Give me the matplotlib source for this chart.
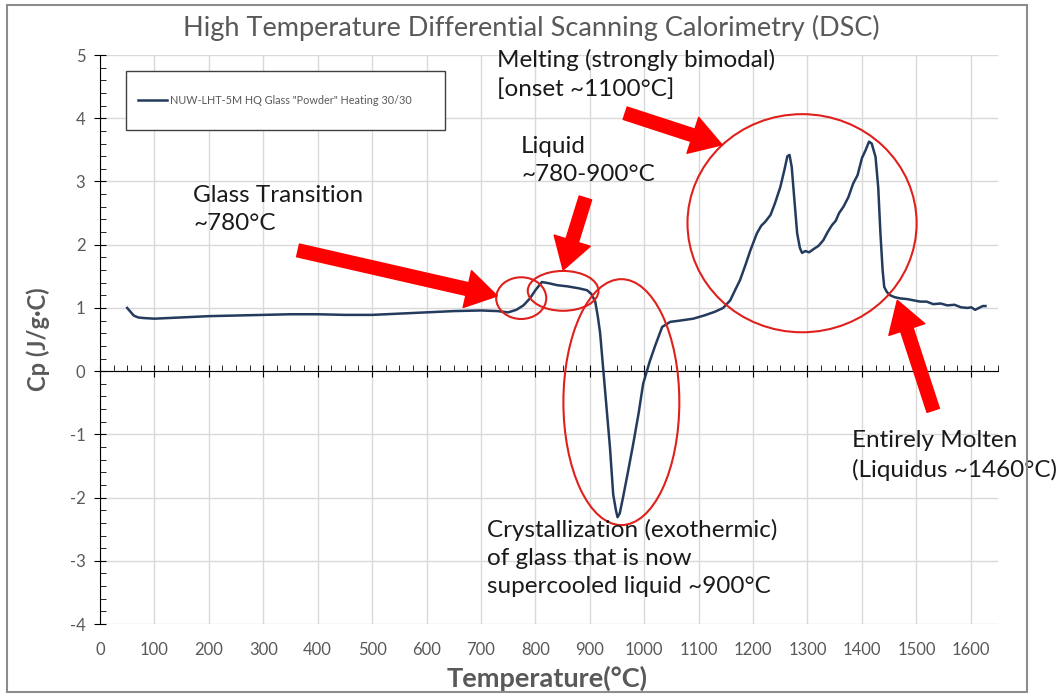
import matplotlib.pyplot as plt
from matplotlib.patches import Ellipse, Rectangle
from matplotlib.ticker import MultipleLocator

# DSC curve
temp = [50, 55, 62, 70, 80, 100, 150, 200, 250, 300, 350, 400, 450, 500, 550,
        600, 650, 700, 730, 750, 765, 778, 790, 800, 812, 825, 840, 860, 880,
        895, 903, 910, 915, 919, 924, 930, 937, 943, 948, 951, 955, 961, 970,
        980, 990, 998, 1010, 1020, 1033, 1048, 1066, 1090, 1110, 1130, 1145,
        1158, 1168, 1176, 1186, 1195, 1207, 1215, 1222, 1232, 1240, 1250, 1258,
        1263, 1267, 1271, 1276, 1281, 1286, 1290, 1296, 1303, 1311, 1320, 1329,
        1337, 1345, 1352, 1358, 1366, 1375, 1384, 1392, 1400, 1407, 1413, 1418,
        1425, 1430, 1434, 1438, 1441, 1446, 1452, 1460, 1471, 1483, 1495, 1507,
        1519, 1531, 1545, 1557, 1570, 1582, 1594, 1601, 1608, 1615, 1622, 1627]
cp = [1.0, 0.95, 0.88, 0.85, 0.84, 0.83, 0.85, 0.87, 0.88, 0.89, 0.9, 0.9,
      0.89, 0.89, 0.91, 0.93, 0.95, 0.96, 0.95, 0.93, 0.97, 1.04, 1.15, 1.28,
      1.41, 1.39, 1.36, 1.34, 1.31, 1.28, 1.22, 1.1, 0.85, 0.6, 0.1, -0.5,
      -1.2, -1.95, -2.2, -2.31, -2.25, -2.0, -1.6, -1.14, -0.65, -0.2, 0.15,
      0.4, 0.7, 0.78, 0.8, 0.83, 0.88, 0.94, 1.0, 1.12, 1.3, 1.44, 1.68, 1.91,
      2.18, 2.3, 2.36, 2.47, 2.65, 2.91, 3.2, 3.4, 3.42, 3.23, 2.7, 2.18, 1.95,
      1.87, 1.9, 1.88, 1.93, 1.98, 2.07, 2.2, 2.31, 2.38, 2.5, 2.6, 2.75, 2.97,
      3.1, 3.37, 3.5, 3.63, 3.6, 3.39, 2.9, 2.18, 1.6, 1.33, 1.25, 1.2, 1.17,
      1.15, 1.14, 1.12, 1.1, 1.1, 1.06, 1.07, 1.04, 1.05, 1.01, 1.0, 1.01,
      0.97, 1.0, 1.03, 1.03]

series_label = 'NUW-LHT-5M HQ Glass "Powder" Heating 30/30'

plt.rcParams['font.family'] = ['Lato', 'DejaVu Sans']
plt.rcParams['axes.unicode_minus'] = False
gray = '#595959'
navy = '#243b5e'

fig = plt.figure(figsize=(10.6, 6.96), dpi=100)
ax_h = 0.8175
ax = fig.add_axes([0.0943, 0.1034, 0.8472, ax_h])

ax.plot(temp, cp, color=navy, lw=1.8, label=series_label, zorder=3)

ax.set_xlim(0, 1650)
ax.set_ylim(-4, 5)
ax.set_xticks(range(0, 1601, 100))
ax.xaxis.set_minor_locator(MultipleLocator(25))
ax.yaxis.set_major_locator(MultipleLocator(1))
ax.yaxis.set_minor_locator(MultipleLocator(0.2))
ax.grid(True, which='major', color='#d9d9d9', lw=1)
ax.set_axisbelow(True)

for s in ['top', 'right']:
    ax.spines[s].set_visible(False)
# horizontal axis crosses at Cp = 0, labels stay at the bottom
ax.spines['bottom'].set_position(('data', 0))
ax.spines['bottom'].set_zorder(2.5)
pad_pt = ax_h * 6.96 * 72 * 4 / 9 + 13 - 4.5
ax.tick_params(axis='x', which='major', direction='inout', length=9,
               pad=pad_pt, labelsize=12, labelcolor=gray)
ax.tick_params(axis='x', which='minor', direction='in', length=4)
ax.tick_params(axis='y', which='major', direction='inout', length=9,
               labelsize=12, labelcolor=gray, pad=6)
ax.tick_params(axis='y', which='minor', direction='in', length=4)

fig.text(0.501, 0.96, 'High Temperature Differential Scanning Calorimetry (DSC)',
         fontsize=19.5, color=gray, ha='center', va='center')
ax.text(0.498, -0.095, 'Temperature(°C)', transform=ax.transAxes, fontsize=19.5,
        fontweight='bold', color=gray, ha='center', va='center')
ax.set_ylabel('Cp (J/g·C)', fontsize=17, fontweight='bold', color=gray,
              labelpad=14)

# legend box
ax.add_patch(Rectangle((0.029, 0.868), 0.355, 0.104, transform=ax.transAxes,
                       fill=True, fc='white', ec='#404040', lw=1, zorder=4))
leg = ax.legend(loc='center left', bbox_to_anchor=(0.032, 0.92), frameon=False,
                fontsize=7.8, handlelength=2.6, handletextpad=0.3)
leg.set_zorder(5)
for t in leg.get_texts():
    t.set_color(gray)

# red ellipses
ellipses = [(774, 1.155, 92, 0.66), (851, 1.27, 130, 0.63),
            (958, -0.49, 213, 3.89), (1290, 2.34, 421, 3.45)]
for cx, cy, w, h in ellipses:
    ax.add_patch(Ellipse((cx, cy), w, h, fill=False, ec='#e0201c', lw=1.5,
                         zorder=4))

# red arrows (tail -> tip)
arrows = [((364, 1.91), (730, 1.19)), ((892, 2.74), (851, 1.60)),
          ((965, 4.08), (1143, 3.58)), ((1531, -0.62), (1465, 1.12))]
for tail, tip in arrows:
    ax.annotate('', xy=tip, xytext=tail,
                arrowprops=dict(arrowstyle='simple,head_length=1.3,head_width=1.6,tail_width=0.55',
                                fc='#ff0000', ec='#ff0000', mutation_scale=17,
                                shrinkA=0, shrinkB=0), zorder=5)

notes = [(730, 5.10, 'Melting (strongly bimodal)\n[onset ~1100°C]'),
         (774, 3.72, 'Liquid\n~780-900°C'),
         (171, 2.95, 'Glass Transition\n~780°C'),
         (711, -2.34, 'Crystallization (exothermic)\nof glass that is now\nsupercooled liquid ~900°C'),
         (1382, -0.93, 'Entirely Molten\n(Liquidus ~1460°C)')]
for x, y, s in notes:
    ax.text(x, y, s, fontsize=17.5, color='#1a1a1a', va='top', ha='left',
            linespacing=1.42, zorder=6)

# outer chart frame
fig.add_artist(Rectangle((0.0066, 0.0057), 0.962, 0.987,
                         transform=fig.transFigure, fill=False,
                         ec='#8c8c8c', lw=1.5))

fig.savefig('out.png', dpi=100)
